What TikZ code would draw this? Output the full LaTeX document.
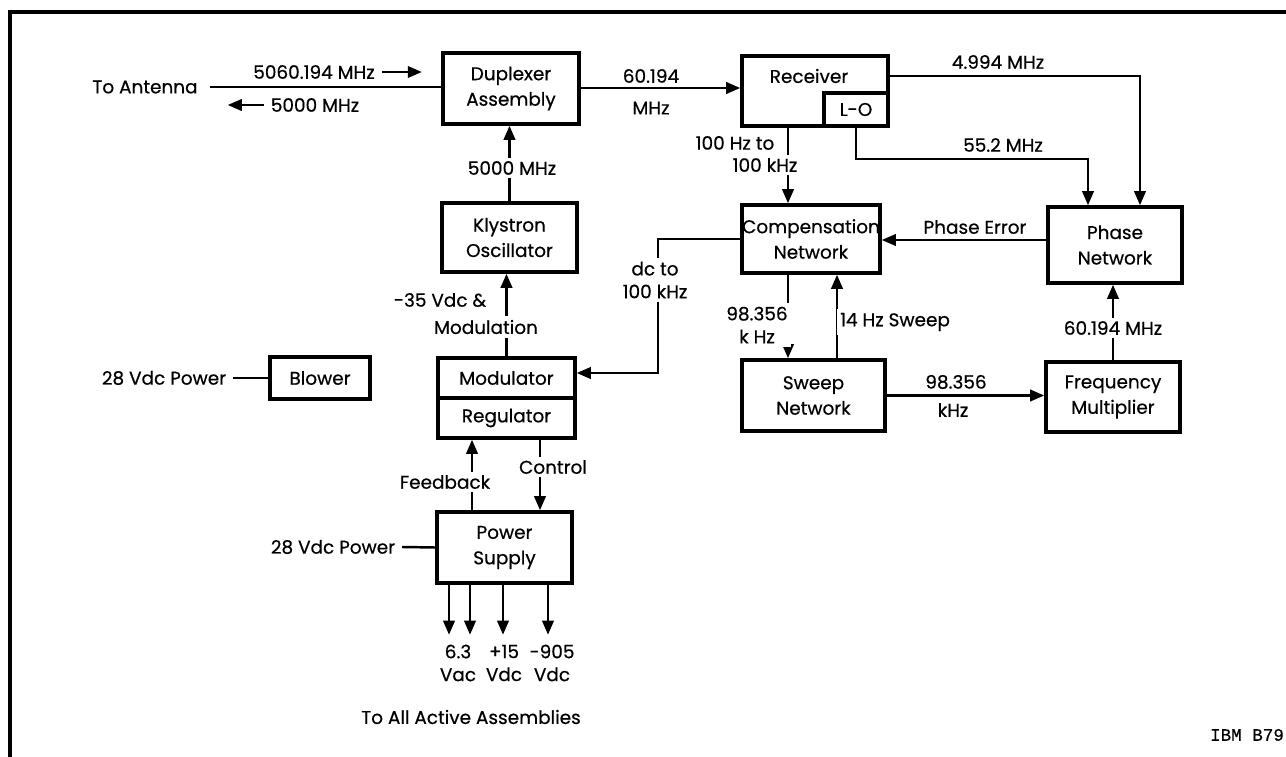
\documentclass[tikz,border=0pt]{standalone}
\usepackage{fontspec}
\setmainfont{Poppins}[FakeBold=0.5]
\newfontfamily\ibmfont{Liberation Mono}[FakeBold=0.4]
\usetikzlibrary{arrows.meta,positioning,calc}

\begin{document}
\begin{tikzpicture}[x=0.02cm,y=-0.02cm,
    blk/.style={draw,line width=2pt,align=center,inner sep=0pt,font=\fontsize{10.5}{14.5}\selectfont},
    wire/.style={line width=1.4pt},
    arr/.style={wire,-{Triangle[length=8pt,width=6.5pt]}},
    lbl/.style={font=\fontsize{10.5}{13}\selectfont,inner sep=1pt,align=center},
    cut/.style={lbl,fill=white,inner sep=2pt}]
  \useasboundingbox (0,0) rectangle (1286,757);
  \draw[line width=2pt] (10,757) -- (10,12) -- (1286,12);

  % blocks
  \node[blk,minimum width=2.72cm,minimum height=1.42cm] (dup) at (511,88.5) {Duplexer\\Assembly};
  \node[blk,minimum width=2.92cm,minimum height=1.4cm] (rcv) at (815,91) {};
  \node[lbl] (rcvtxt) at (809,76) {Receiver};
  \node[blk,minimum width=1.28cm,minimum height=0.66cm] (lo) at (856,109.5) {L-O};
  \node[blk,minimum width=2.7cm,minimum height=1.38cm] (kly) at (509.5,237.5) {Klystron\\Oscillator};
  \node[blk,minimum width=2.76cm,minimum height=1.36cm] (comp) at (811,239) {Compensation\\Network};
  \node[blk,minimum width=2.68cm,minimum height=1.52cm] (phase) at (1115,245) {Phase\\Network};
  \node[blk,minimum width=2.74cm,minimum height=0.8cm] (mod) at (506.5,378) {Modulator};
  \node[blk,minimum width=2.74cm,minimum height=0.8cm] (reg) at (506.5,418) {Regulator};
  \node[blk,minimum width=2.86cm,minimum height=1.42cm] (sweep) at (813.5,395.5) {Sweep\\Network};
  \node[blk,minimum width=2.68cm,minimum height=1.4cm] (fm) at (1113,397) {Frequency\\Multiplier};
  \node[blk,minimum width=2.0cm,minimum height=0.84cm] (blow) at (320,378) {Blower};
  \node[blk,minimum width=2.7cm,minimum height=1.42cm] (ps) at (504.5,547.5) {Power\\Supply};

  % free text
  \node[lbl] (ant) at (145,87) {To Antenna};
  \node[lbl] (antin) at (314,72) {5060.194 MHz};
  \node[lbl] (antout) at (315,105) {5000 MHz};
  \node[lbl] (pwa) at (164,378) {28 Vdc Power};
  \node[lbl] (pwb) at (333,547) {28 Vdc Power};

  % connectors
  \draw[wire] ([xshift=0.2cm]ant.east) -- (ant.east -| dup.west);
  \draw[arr] ([xshift=0.1cm]antin.east) -- ++(40,0);
  \draw[arr] ([xshift=-0.1cm]antout.west) -- ++(-36,0);
  \draw[arr] ([yshift=0.01cm]dup.east) -- ([yshift=0.01cm]dup.east -| rcv.west);
  \draw[arr] (kly.north) -- (kly.north |- dup.south);
  \draw[arr] ([xshift=-0.54cm]rcv.south) -- ([xshift=-0.54cm]rcv.south |- comp.north);
  \draw[arr] (lo.south) -- ++(0,31) -| ([xshift=-0.54cm]phase.north);
  \draw[arr] ([yshift=0.3cm]rcv.east) -| ([xshift=0.5cm]phase.north);
  \draw[arr] ([yshift=0.1cm]phase.west) -- ([yshift=0.1cm]phase.west -| comp.east);
  \draw[arr] (comp.west) -- ++(-82,0) |- ([yshift=0.1cm]mod.east);
  \draw[arr] (mod.north) -- (mod.north |- kly.south);
  \draw[arr] ([xshift=-0.46cm]comp.south) -- ([xshift=-0.46cm]comp.south |- sweep.north);
  \draw[arr] ([xshift=0.52cm]comp.south |- sweep.north) -- ([xshift=0.52cm]comp.south);
  \draw[arr] (sweep.east) -- (sweep.east -| fm.west);
  \draw[arr] (fm.north) -- (fm.north |- phase.south);
  \draw[wire] ([xshift=0.1cm]pwa.east) -- (blow.west);
  \draw[arr] ([xshift=-0.65cm]ps.north) -- ([xshift=-0.65cm]ps.north |- reg.south);
  \draw[arr] ([xshift=0.71cm]ps.north |- reg.south) -- ([xshift=0.71cm]ps.north);
  \draw[wire] ([xshift=0.1cm]pwb.east) -- (ps.west);
  \foreach \dx in {-1.11,-0.69,-0.03,0.87}
    \draw[arr] ([xshift=\dx cm]ps.south) -- ++(0,50);

  % labels on the lines
  \node[lbl] (fa) at (651,76) {60.194};
  \node[lbl] (fb) at (651,108) {MHz};
  \node[cut] (kout) at (512,168) {5000 MHz};
  \node[lbl] (rca) at (735,143) {100 Hz to};
  \node[cut] (rcb) at (765,165) {100 kHz};
  \node[lbl] (lof) at (1003,145) {55.2 MHz};
  \node[lbl] (iff) at (998,62) {4.994 MHz};
  \node[lbl] (perr) at (975,227) {Phase Error};
  \node[cut] (dcf) at (655,280) {dc to\\100 kHz};
  \node[lbl] (moda) at (440,300) {-35 Vdc \&};
  \node[cut] (modb) at (486,327) {Modulation};
  \node[cut] (swd) at (757,325) {98.356\\k Hz};
  \node[cut] (swu) at (895,322) {14 Hz Sweep};
  \node[lbl] (swa) at (956,382) {98.356};
  \node[lbl] (swb) at (953,410) {kHz};
  \node[cut] (mult) at (1113,328) {60.194 MHz};
  \node[cut] (fbk) at (445,482) {Feedback};
  \node[cut] (ctl) at (553,467) {Control};
  \node[lbl] (oa) at (458,663) {6.3\\Vac};
  \node[lbl] (ob) at (504,663) {+15\\Vdc};
  \node[lbl] (oc) at (552,663) {-905\\Vdc};
  \node[lbl] (all) at (471,717) {To All Active Assemblies};
  \node[font=\ibmfont\fontsize{10}{11}\selectfont] (ibm) at (1247,735) {IBM B79};
\end{tikzpicture}
\end{document}
